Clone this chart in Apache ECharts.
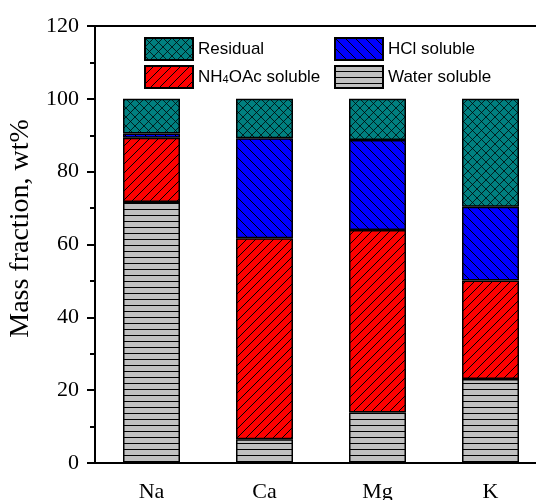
<!DOCTYPE html>
<html><head><meta charset="utf-8">
<script src="https://cdn.jsdelivr.net/npm/echarts@6/dist/echarts.min.js"></script>
<style>html,body{margin:0;padding:0;background:#fff}#c{width:536px;height:500px}</style>
</head><body><div id="c"></div>
<script>
const categories = ['Na', 'Ca', 'Mg', 'K'];
const waterSoluble = [71.7, 6.5, 13.9, 23.1];
const nh4oacSoluble = [17.6, 55.2, 50.1, 27.0];
const hclSoluble = [1.2, 27.5, 24.7, 20.3];
const residual = [9.5, 10.8, 11.3, 29.6];
const yTicks = [0, 20, 40, 60, 80, 100, 120];

function makePattern(bg, size, draw) {
  const c = document.createElement('canvas');
  c.width = size; c.height = size;
  const ctx = c.getContext('2d');
  ctx.fillStyle = bg; ctx.fillRect(0, 0, size, size);
  ctx.strokeStyle = '#000'; ctx.lineWidth = 1;
  draw(ctx, size);
  return { image: c, repeat: 'repeat' };
}
function fwd(ctx, s) {
  ctx.beginPath();
  ctx.moveTo(-1, s + 1); ctx.lineTo(s + 1, -1);
  ctx.moveTo(-1, 1); ctx.lineTo(1, -1);
  ctx.moveTo(s - 1, s + 1); ctx.lineTo(s + 1, s - 1);
  ctx.stroke();
}
function back(ctx, s) {
  ctx.beginPath();
  ctx.moveTo(-1, -1); ctx.lineTo(s + 1, s + 1);
  ctx.moveTo(s - 1, -1); ctx.lineTo(s + 1, 1);
  ctx.moveTo(-1, s - 1); ctx.lineTo(1, s + 1);
  ctx.stroke();
}
const patWater = makePattern('#c0c0c0', 6, (ctx, s) => {
  ctx.beginPath(); ctx.moveTo(0, s - 0.5); ctx.lineTo(s, s - 0.5); ctx.stroke();
});
const patNH = makePattern('#ff0000', 9, fwd);
const patHCl = makePattern('#0000ff', 10, back);
const patRes = makePattern('#008080', 9, (ctx, s) => { ctx.strokeStyle = 'rgba(0,0,0,0.75)'; fwd(ctx, s); back(ctx, s); });

const serif = 'Liberation Serif, Times New Roman, serif';
const sans = 'Liberation Sans, Arial, sans-serif';

function bar(name, data, pat) {
  return {
    name, type: 'bar', stack: 'total', data, barWidth: 57,
    itemStyle: { color: pat, borderColor: '#000', borderWidth: 1.5 },
    emphasis: { disabled: true }
  };
}

const legendCommon = {
  orient: 'vertical', itemWidth: 48, itemHeight: 22, itemGap: 4, padding: 0,
  icon: 'rect',
  textStyle: {
    fontFamily: sans, fontSize: 17, color: '#000',
    rich: {
      n: { fontFamily: sans, fontSize: 17, color: '#000' },
      s: { fontFamily: sans, fontSize: 11, color: '#000', verticalAlign: 'bottom', padding: [6, 0, 0, 0] }
    }
  },
  formatter: name => name === 'NH4OAc soluble' ? '{n|NH}{s|4}{n|OAc soluble}' : name,
  selectedMode: false
};

const chart = echarts.init(document.getElementById('c'), null, { renderer: 'canvas' });
chart.setOption({
  animation: false,
  backgroundColor: '#fff',
  grid: { left: 95, top: 26, width: 452, height: 437, outerBoundsMode: 'none', containLabel: false, show: true, borderColor: '#000', borderWidth: 2, backgroundColor: 'transparent' },
  legend: [
    Object.assign({}, legendCommon, { left: 144, top: 37, data: ['Residual', 'NH4OAc soluble'] }),
    Object.assign({}, legendCommon, { left: 334, top: 37, data: ['HCl soluble', 'Water soluble'] })
  ],
  xAxis: {
    type: 'category', data: categories, boundaryGap: true,
    axisLine: { lineStyle: { color: '#000', width: 2 } },
    axisTick: { alignWithLabel: true, length: 8, lineStyle: { color: '#000', width: 2 } },
    axisLabel: { fontFamily: serif, fontSize: 22, color: '#000', margin: 18 }
  },
  yAxis: {
    type: 'value', min: yTicks[0], max: yTicks[yTicks.length - 1], interval: 20,
    name: 'Mass fraction, wt%', nameLocation: 'middle', nameGap: 55,
    nameTextStyle: { fontFamily: serif, fontSize: 28, color: '#000', padding: [0, 0, 0, 32] },
    axisLine: { show: true, lineStyle: { color: '#000', width: 2 } },
    axisTick: { show: true, length: 8, lineStyle: { color: '#000', width: 2 } },
    minorTick: { show: true, splitNumber: 2, length: 5, lineStyle: { color: '#000', width: 2 } },
    splitLine: { show: false },
    axisLabel: { fontFamily: serif, fontSize: 22, color: '#000', margin: 16 }
  },
  series: [
    bar('Water soluble', waterSoluble, patWater),
    bar('NH4OAc soluble', nh4oacSoluble, patNH),
    bar('HCl soluble', hclSoluble, patHCl),
    bar('Residual', residual, patRes)
  ]
});
</script></body></html>
